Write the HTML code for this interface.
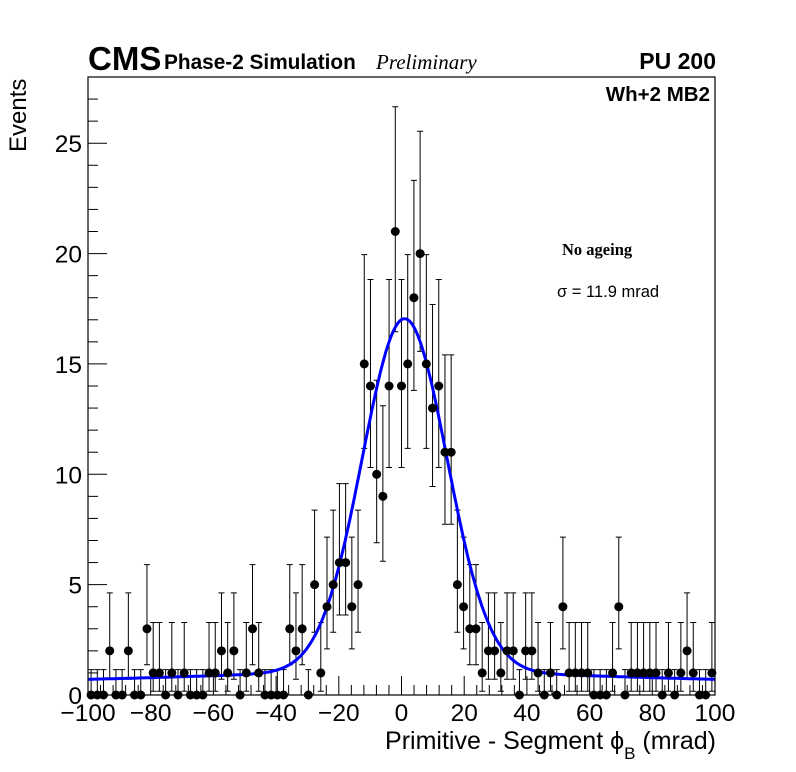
<!DOCTYPE html>
<html><head><meta charset="utf-8"><style>
html,body{margin:0;padding:0;background:#fff;}
svg{display:block;font-family:"Liberation Sans",sans-serif;}
</style></head><body>
<svg id="chart" width="796" height="772" viewBox="0 0 796 772">
<g id="ticks"></g>
<g id="errs"></g>
<path id="fit" fill="none" stroke="#0000ff" stroke-width="3"/>
<g id="pts"></g>
<rect x="88" y="77" width="627" height="618" fill="none" stroke="#000" stroke-width="1.2"/>
<text x="88" y="70" font-size="33" font-weight="bold">CMS</text>
<text x="164" y="69" font-size="20.8" font-weight="bold">Phase-2 Simulation</text>
<text x="376" y="69" font-size="21" font-style="italic" font-family="Liberation Serif,serif">Preliminary</text>
<text x="716" y="69" font-size="23" font-weight="bold" text-anchor="end">PU 200</text>
<text x="710" y="101" font-size="20.5" font-weight="bold" text-anchor="end">Wh+2 MB2</text>
<text x="562" y="255" font-size="16.5" font-weight="bold" font-family="Liberation Serif,serif">No ageing</text>
<text x="557" y="297" font-size="16.5">σ = 11.9 mrad</text>
<text x="716" y="749" font-size="25" text-anchor="end">Primitive - Segment ϕ<tspan font-size="17" dy="10">B</tspan><tspan dy="-10"> (mrad)</tspan></text>
<text transform="translate(26,152) rotate(-90)" font-size="24">Events</text>
</svg>
<script>
const values=[0,0,0,2,0,0,2,0,0,3,1,1,0,1,0,1,0,0,0,1,1,2,1,2,0,1,3,1,0,0,0,0,3,2,3,0,5,1,4,5,6,6,4,5,15,14,10,9,14,21,14,15,18,20,15,13,14,11,11,5,4,3,3,1,2,2,1,2,2,0,2,2,1,0,1,0,4,1,1,1,1,0,0,0,1,4,0,1,1,1,1,1,0,1,0,1,2,1,0,0,1];
const xTicks=[-100,-80,-60,-40,-20,0,20,40,60,80,100];
const yTicks=[0,5,10,15,20,25];
const fitParams=[16,1,13.5,0.6,0.45,60]; // amp, mean, sigma, bg0, bgAmp, bgWidth
const X0=88,X1=715,Y0=695,Y1=77,XMIN=-100,XMAX=100,YMAX=28;
const sx=v=>X0+(v-XMIN)/(XMAX-XMIN)*(X1-X0);
const sy=v=>Y0-v/YMAX*(Y0-Y1);
const NS="http://www.w3.org/2000/svg";
function mk(tag,attrs,parent){const e=document.createElementNS(NS,tag);for(const k in attrs)e.setAttribute(k,attrs[k]);parent.appendChild(e);return e;}
const tg=document.getElementById('ticks');
for(let v=-100;v<=100;v+=4){const major=(v%20===0);const l=mk('line',{x1:sx(v),x2:sx(v),y1:Y0,y2:Y0-(major?19:10),stroke:'#000','stroke-width':1},tg);

}
xTicks.forEach(v=>{const t=mk('text',{x:sx(v),y:721,'font-size':24.5,'text-anchor':'middle'},tg);t.textContent=(v<0?'\u2212'+(-v):v);

});
for(let v=0;v<=27;v++){const major=(v%5===0);const l=mk('line',{x1:X0,x2:X0+(major?19:10),y1:sy(v),y2:sy(v),stroke:'#000','stroke-width':1},tg);

}
yTicks.forEach(v=>{const t=mk('text',{x:82,y:sy(v)+9,'font-size':24.5,'text-anchor':'end'},tg);t.textContent=v;

});
const eg=document.getElementById('errs'),pg=document.getElementById('pts');
const n=values.length,w=(XMAX-XMIN)/n;
function lo(k){if(k===0)return 0;return k*Math.pow(1-1/(9*k)-1/(3*Math.sqrt(k)),3);}
function hi(k){if(k===0)return 1.15;const m=k+1;return m*Math.pow(1-1/(9*m)+1/(3*Math.sqrt(m)),3);}
values.forEach((k,i)=>{const c=XMIN+(i+0.5)*w,x=sx(c);
const a=sy(hi(k)),b=sy(lo(k));
const p=mk('path',{d:`M${x},${a}V${b}M${x-3},${a}h6M${x-3},${b}h6`,stroke:'#000','stroke-width':1,fill:'none'},eg);


const d=mk('circle',{cx:x,cy:sy(k),r:4.5,fill:'#000'},pg);

});
const [A,M,S,B0,BA,BW]=fitParams;let d='';
for(let v=XMIN;v<=XMAX;v+=0.5){const y=A*Math.exp(-((v-M)**2)/(2*S*S))+B0+BA*Math.exp(-(v*v)/(2*BW*BW));d+=(d?'L':'M')+sx(v).toFixed(1)+','+sy(y).toFixed(1);}
document.getElementById('fit').setAttribute('d',d);
</script>
</body></html>
